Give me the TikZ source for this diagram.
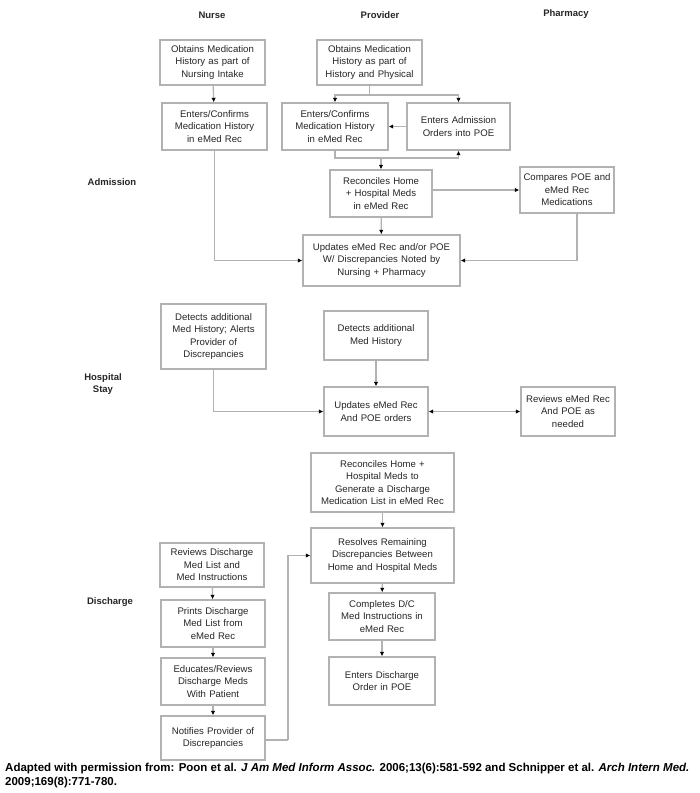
\documentclass[tikz,border=0pt]{standalone}
\usepackage{fontspec}
\setmainfont{Liberation Sans}
\usetikzlibrary{arrows.meta}
\begin{document}
\begin{tikzpicture}[x=1pt,y=-1pt,
  box/.style={draw=gray!60, line width=1.4pt, fill=white, align=center,
    font=\fontsize{9.6}{12.5}\selectfont, text=black!85, inner sep=1pt},
  hdr/.style={font=\bfseries\fontsize{9.5}{12}\selectfont, text=black!85, align=center},
  conn/.style={draw=gray!60, line width=1.3pt},
  arr/.style={conn, -{Latex[length=4.5pt,width=4.5pt,color=black]}},
  darr/.style={conn, {Latex[length=4.5pt,width=4.5pt,color=black]}-{Latex[length=4.5pt,width=4.5pt,color=black]}}
]
\useasboundingbox (0,0) rectangle (700,793);
% headers
\node[hdr] (hN) at (212,15) {Nurse};
\node[hdr] (hP) at (380,15) {Provider};
\node[hdr] (hF) at (566,14) {Pharmacy};
\node[hdr] (lA) at (112,182) {Admission};
\node[hdr] (lH) at (103,384) {Hospital\\Stay};
\node[hdr] (lD) at (110,602) {Discharge};

% Admission
\node[box, minimum width=105pt, minimum height=45pt, text width=103pt] (n1) at (212.5,62.5) {Obtains Medication\\History as part of\\Nursing Intake};
\node[box, minimum width=105pt, minimum height=45pt, text width=103pt] (p1) at (369.5,62.5) {Obtains Medication\\History as part of\\History and Physical};
\node[box, minimum width=105pt, minimum height=47pt, text width=103pt] (n2) at (214.5,126.5) {Enters/Confirms\\Medication History\\in eMed Rec};
\node[box, minimum width=106pt, minimum height=47pt, text width=103pt] (p2a) at (335,126.5) {Enters/Confirms\\Medication History\\in eMed Rec};
\node[box, minimum width=103pt, minimum height=47pt, text width=100pt] (p2b) at (458.5,126.5) {Enters Admission\\Orders into POE};
\node[box, minimum width=102pt, minimum height=47pt, text width=100pt] (rec) at (381,193.5) {Reconciles Home\\+ Hospital Meds\\in eMed Rec};
\node[box, minimum width=90pt, minimum height=46pt, text width=92pt] (cmp) at (567,190) {Compares POE and\\eMed Rec\\Medications};
\node[box, minimum width=157pt, minimum height=51pt, text width=155pt] (upd) at (381.5,260.5) {Updates eMed Rec and/or POE\\W/ Discrepancies Noted by\\Nursing + Pharmacy};

\draw[arr] (n1) -- (n2);
\coordinate (j1) at (369.5,95);
\draw[conn] (p1.south) -- (j1);
\draw[arr] (j1) -| (p2a.north);
\draw[arr] (j1) -| (p2b.north);
\draw[arr] (p2b.west) -- (p2a.east);
\coordinate (j2) at (381,158);
\draw[conn] (p2a.south) |- (j2);
\draw[arr] (j2) -| (p2b.south);
\draw[arr] (j2) -- (rec.north);
\draw[arr] (rec.east |- cmp.west) -- (cmp.west);
\draw[arr] (rec) -- (upd);
\draw[arr] (n2.south) |- (upd.west);
\draw[arr] ([xshift=10pt]cmp.south) |- (upd.east);

% Hospital stay
\node[box, minimum width=105pt, minimum height=65pt, text width=103pt] (hn) at (213.5,336.5) {Detects additional\\Med History; Alerts\\Provider of\\Discrepancies};
\node[box, minimum width=104pt, minimum height=49pt, text width=102pt] (hp) at (376,335.5) {Detects additional\\Med History};
\node[box, minimum width=104pt, minimum height=49pt, text width=102pt] (hu) at (376,411.5) {Updates eMed Rec\\And POE orders};
\node[box, minimum width=90pt, minimum height=49pt, text width=92pt] (hr) at (568,411.5) {Reviews eMed Rec\\And POE as\\needed};

\draw[arr] (hn.south) |- (hu.west);
\draw[arr] (hp) -- (hu);
\draw[darr] (hu.east) -- (hr.west);

% Discharge
\node[box, minimum width=143pt, minimum height=59pt, text width=140pt] (d1) at (382.5,482.5) {Reconciles Home +\\Hospital Meds to\\Generate a Discharge\\Medication List in eMed Rec};
\node[box, minimum width=143pt, minimum height=55pt, text width=140pt] (d2) at (382.5,555.5) {Resolves Remaining\\Discrepancies Between\\Home and Hospital Meds};
\node[box, minimum width=106pt, minimum height=47pt, text width=104pt] (d3) at (382,616.5) {Completes D/C\\Med Instructions in\\eMed Rec};
\node[box, minimum width=106pt, minimum height=48pt, text width=104pt] (d4) at (382,681) {Enters Discharge\\Order in POE};
\node[box, minimum width=104pt, minimum height=44pt, text width=102pt] (dn1) at (212,565) {Reviews Discharge\\Med List and\\Med Instructions};
\node[box, minimum width=104pt, minimum height=47pt, text width=102pt] (dn2) at (213,623.5) {Prints Discharge\\Med List from\\eMed Rec};
\node[box, minimum width=104pt, minimum height=47pt, text width=102pt] (dn3) at (213,681.5) {Educates/Reviews\\Discharge Meds\\With Patient};
\node[box, minimum width=104pt, minimum height=44pt, text width=102pt] (dn4) at (213,738) {Notifies Provider of\\Discrepancies};

\draw[arr] (d1) -- (d2);
\draw[arr] (d2) -- (d3);
\draw[arr] (d3) -- (d4);
\draw[arr] (dn1) -- (dn2);
\draw[arr] (dn2) -- (dn3);
\draw[arr] (dn3) -- (dn4);
\coordinate (j3) at (288,740);
\draw[conn] (dn4.east |- j3) -- (j3);
\draw[arr] (j3) |- (d2.west);

% caption
\node[anchor=north west, align=left, inner sep=0pt, font=\bfseries\fontsize{11.5}{14}\selectfont] (cap) at (5,763) {Adapted with permission from: Poon et al. \textit{J Am Med Inform Assoc.} 2006;13(6):581-592 and Schnipper et al. \textit{Arch Intern Med.}\\2009;169(8):771-780.};
\end{tikzpicture}
\end{document}
